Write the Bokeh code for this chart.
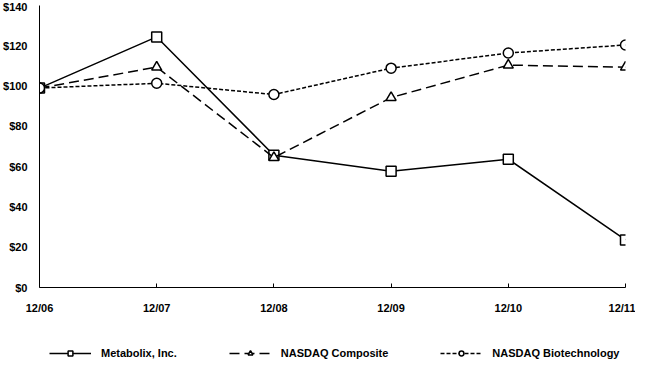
from bokeh.plotting import figure
from bokeh.layouts import column
from bokeh.models import FixedTicker, NumeralTickFormatter, Legend, LegendItem, Range1d
from bokeh.embed import file_html
from bokeh.resources import INLINE

periods = ["12/06", "12/07", "12/08", "12/09", "12/10", "12/11"]
metabolix = [99, 124.4, 65.7, 57.7, 63.7, 23.6]
nasdaq_composite = [99, 109.4, 64.5, 94.3, 110.4, 109.4]
nasdaq_biotech = [99, 101.4, 95.8, 108.9, 116.4, 120.4]
y_ticks = [0, 20, 40, 60, 80, 100, 120, 140]
series_names = ["Metabolix, Inc.", "NASDAQ Composite", "NASDAQ Biotechnology"]

x = list(range(len(periods)))
FONT = "Liberation Sans"
series = [metabolix, nasdaq_composite, nasdaq_biotech]

styles = [
    dict(dash="solid", marker="square"),
    dict(dash="10 5", marker="triangle"),
    dict(dash="4 2", marker="circle"),
]

p = figure(width=635, height=316, output_backend="svg", toolbar_location=None,
           x_range=Range1d(0, len(periods) - 1), y_range=Range1d(0, 140),
           min_border_left=34, min_border_right=10, min_border_top=5, min_border_bottom=0)
p.outline_line_color = None
p.xgrid.visible = False
p.ygrid.visible = False

for vals, st in zip(series, styles):
    p.line(x, vals, line_color="black", line_width=1.5, line_dash=st["dash"])
    p.scatter(x, vals, marker=st["marker"], size=10, fill_color="white",
              line_color="black", line_width=1.5)

p.xaxis.ticker = FixedTicker(ticks=x)
p.xaxis.major_label_overrides = {i: lab for i, lab in enumerate(periods)}
p.xaxis.major_tick_in = 4
p.xaxis.major_tick_out = 0
p.xaxis.minor_tick_line_color = None
p.xaxis.major_label_standoff = 14
p.xaxis.axis_line_color = "black"
p.xaxis.major_tick_line_color = "black"

p.yaxis.ticker = FixedTicker(ticks=y_ticks)
p.yaxis.formatter = NumeralTickFormatter(format="$0")
p.yaxis.major_tick_in = 0
p.yaxis.major_tick_out = 0
p.yaxis.minor_tick_line_color = None
p.yaxis.major_label_standoff = 12
p.yaxis.axis_line_color = "black"

for ax in (p.xaxis, p.yaxis):
    ax.major_label_text_font = FONT
    ax.major_label_text_font_style = "bold"
    ax.major_label_text_font_size = "11px"
    ax.major_label_text_color = "black"

# legend strip below the chart (series drawn out of view; only the legend shows)
lf = figure(width=635, height=44, output_backend="svg", toolbar_location=None,
            x_axis_type=None, y_axis_type=None,
            x_range=Range1d(-20, -19), y_range=Range1d(-20, -19),
            min_border_left=0, min_border_right=0, min_border_top=0, min_border_bottom=0)
lf.outline_line_color = None
lf.xgrid.visible = False
lf.ygrid.visible = False

items = []
for name, vals, st in zip(series_names, series, styles):
    rl = lf.line(x, vals, line_color="black", line_width=1.5, line_dash=st["dash"])
    rs = lf.scatter(x, vals, marker=st["marker"], size=10, fill_color="white",
                    line_color="black", line_width=1.5)
    items.append(LegendItem(label=name, renderers=[rl, rs]))

legend = Legend(items=items, orientation="horizontal", location=(10, 1))
legend.border_line_color = None
legend.background_fill_alpha = 0
legend.padding = 0
legend.margin = 0
legend.spacing = 52
legend.glyph_width = 42
legend.glyph_height = 12
legend.label_standoff = 10
legend.label_text_font = FONT
legend.label_text_font_style = "bold"
legend.label_text_font_size = "11px"
legend.label_text_color = "black"
lf.add_layout(legend, "center")

layout = column(p, lf, spacing=0)
open("out.html", "w").write(file_html(layout, INLINE))
